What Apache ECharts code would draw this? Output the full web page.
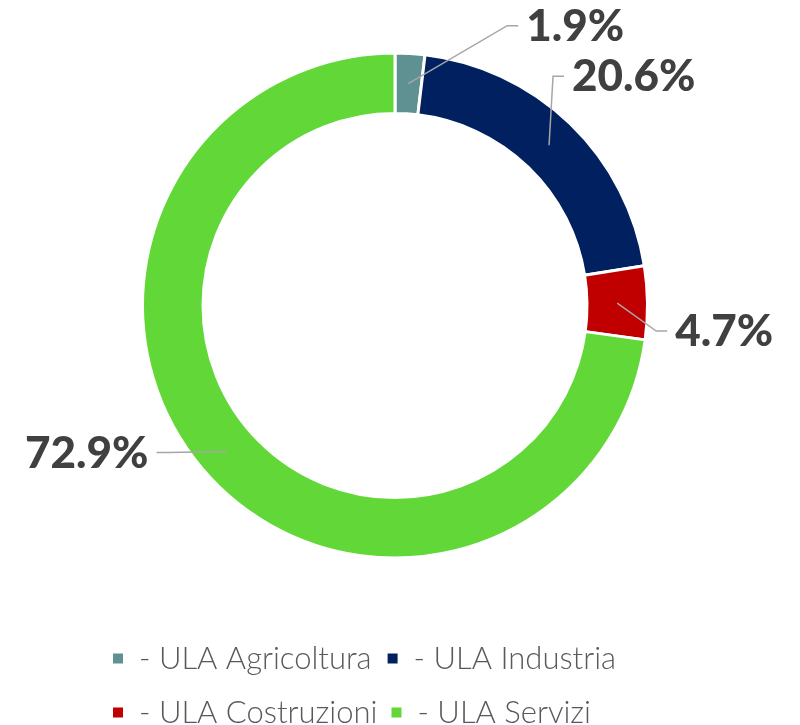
<!DOCTYPE html>
<html lang="it">
<head>
    <meta charset="UTF-8">
    <title>ULA per settore</title>
    <style>
        body { margin: 0; overflow: hidden; background: #fff; }
        #chart { width: 800px; height: 725px; }
    </style>
</head>
<body>
    <div id="chart"></div>
    <script src="https://cdn.jsdelivr.net/npm/echarts@6/dist/echarts.min.js"></script>
    <script>
        // dati
        var categories = ['- ULA Agricoltura', '- ULA Industria', '- ULA Costruzioni', '- ULA Servizi'];
        var values = [1.9, 20.6, 4.7, 72.9];
        var colors = ['#5f9193', '#002060', '#c00000', '#62d838'];

        // spostamento del gomito della linea guida rispetto al punto di partenza
        var elbowOffsets = [[99, -58], [4, -69], [39, 28], [-60, 1]];

        var center = [395, 305.5];
        var rInner = 192, rOuter = 252.5;
        var rLine = (rInner + rOuter) / 2;

        var myChart = echarts.init(document.getElementById('chart'));

        var legendText = { fontFamily: 'Lato', fontWeight: 300, fontSize: 31, color: '#595959', padding: [0, 0, 0, 10] };

        var pieData = categories.map(function (name, i) {
            return { name: name, value: values[i], itemStyle: { color: colors[i] } };
        });

        var option = {
            animation: false,
            legend: [{
                data: categories.slice(0, 2),
                left: 106,
                top: 638,
                icon: 'rect',
                itemWidth: 12,
                itemHeight: 12,
                itemGap: 14,
                textStyle: legendText
            }, {
                data: categories.slice(2),
                left: 106,
                top: 692,
                icon: 'rect',
                itemWidth: 12,
                itemHeight: 12,
                itemGap: 12,
                textStyle: legendText
            }],
            series: [{
                // anello
                type: 'pie',
                z: 2,
                center: center,
                radius: [rInner, rOuter],
                startAngle: 90,
                clockwise: true,
                itemStyle: { borderColor: '#fff', borderWidth: 3 },
                label: { show: false },
                labelLine: { show: false },
                data: pieData
            }, {
                // etichette sopra l'anello
                type: 'pie',
                z: 5,
                silent: true,
                center: center,
                radius: [rInner, rOuter],
                startAngle: 90,
                clockwise: true,
                itemStyle: { color: 'rgba(0,0,0,0)', borderWidth: 0 },
                label: {
                    show: true,
                    position: 'outside',
                    fontFamily: 'Lato',
                    fontWeight: 900,
                    fontSize: 44,
                    color: '#404040',
                    formatter: function (p) { return p.value.toFixed(1) + '%'; }
                },
                labelLine: {
                    show: true,
                    length: 20,
                    length2: 10,
                    lineStyle: { color: '#a6a6a6', width: 1.5 }
                },
                labelLayout: function (params) {
                    var i = params.dataIndex;
                    var p0 = params.labelLinePoints[0];
                    var k = rLine / rOuter;
                    var sx = center[0] + (p0[0] - center[0]) * k;
                    var sy = center[1] + (p0[1] - center[1]) * k;
                    var off = elbowOffsets[i];
                    var ex = sx + off[0], ey = sy + off[1];
                    var dir = off[0] >= 0 ? 1 : -1;
                    var tx = ex + dir * 11;
                    return {
                        x: tx + dir * 8,
                        y: ey + 1,
                        align: dir > 0 ? 'left' : 'right',
                        verticalAlign: 'middle',
                        labelLinePoints: [[sx, sy], [ex, ey], [tx, ey]]
                    };
                },
                data: categories.map(function (name, i) {
                    return { name: name, value: values[i] };
                })
            }]
        };

        myChart.setOption(option);
    </script>
</body>
</html>
